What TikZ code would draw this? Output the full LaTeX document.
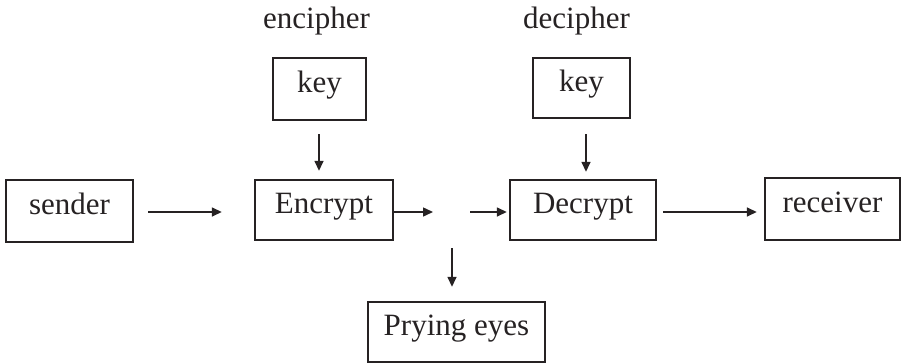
\documentclass[tikz,border=0pt]{standalone}
\usepackage{fontspec}
\setmainfont{Liberation Serif}
\usetikzlibrary{arrows.meta}
\definecolor{ink}{RGB}{38,34,35}
\begin{document}
\begin{tikzpicture}[x=1pt,y=-1pt,
  box/.style={draw=ink, line width=2.4pt, inner sep=0pt, text=ink,
    font=\fontsize{31}{37}\selectfont, text height=21pt, text depth=15pt},
  lbl/.style={inner sep=0pt, anchor=base, text=ink, font=\fontsize{31}{37}\selectfont},
  arr/.style={draw=ink, line width=1.5pt, -{Triangle[length=10pt,width=9pt]}}]
\useasboundingbox (0,0) rectangle (903,364);
\node[box, minimum width=127pt, minimum height=62pt] (sender) at (69.5,211) {sender};
\node[box, minimum width=138pt, minimum height=60pt] (enc) at (324,210) {Encrypt};
\node[box, minimum width=93pt, minimum height=62pt] (key1) at (319.5,89) {key};
\node[box, minimum width=97pt, minimum height=60pt] (key2) at (581.5,88) {key};
\node[box, minimum width=146pt, minimum height=60pt] (dec) at (583,210) {Decrypt};
\node[box, minimum width=135pt, minimum height=62pt] (recv) at (832.5,209) {receiver};
\node[box, minimum width=177pt, minimum height=60pt] (pry) at (456.5,332) {Prying eyes};
\node[lbl] (enciph) at (316.5,28) {encipher};
\node[lbl] (deciph) at (576.5,28) {decipher};
\coordinate (mid) at (452,212);
% connectors
\draw[arr, shorten <=14pt, shorten >=32pt] (sender.east |- mid) -- (enc.west |- mid);
\draw[arr, shorten <=13pt, shorten >=8pt] (key1.south -| 319,0) -- (enc.north -| 319,0);
\draw[arr, shorten <=15pt, shorten >=7pt] (key2.south -| 586,0) -- (dec.north -| 586,0);
\draw[arr, shorten >=19pt] (enc.east |- mid) -- (mid);
\draw[arr, shorten <=18pt, shorten >=2pt] (mid) -- (dec.west |- mid);
\draw[arr, shorten <=36pt, shorten >=14pt] (mid) -- (mid |- pry.north);
\draw[arr, shorten <=6pt, shorten >=7pt] (dec.east |- mid) -- (recv.west |- mid);
\end{tikzpicture}
\end{document}
